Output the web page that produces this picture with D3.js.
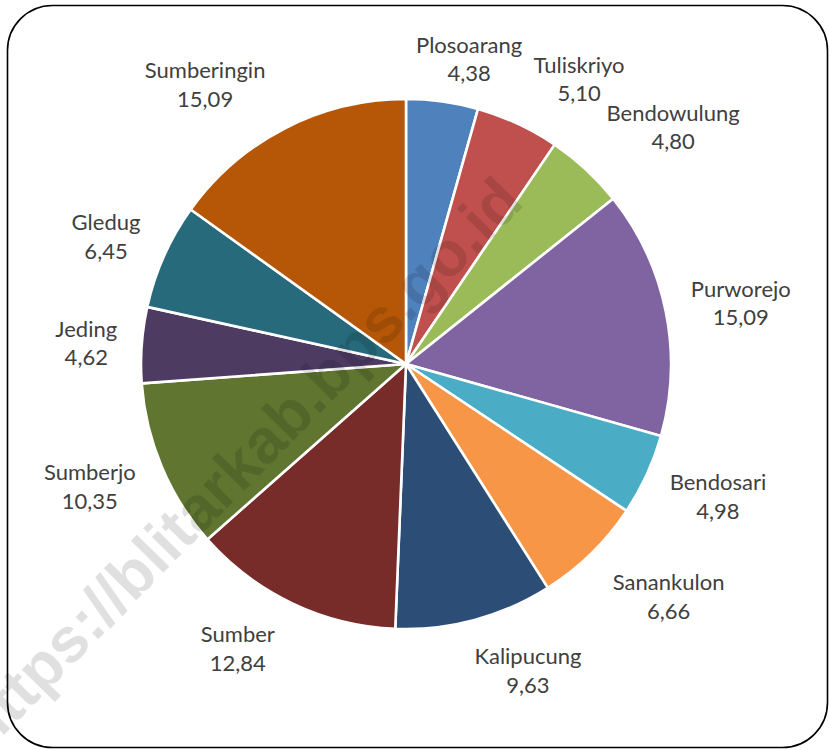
<!DOCTYPE html>
<html>
<head>
<meta charset="utf-8">
<script src="https://cdn.jsdelivr.net/npm/d3@7"></script>
<style>
  html, body { margin: 0; padding: 0; background: #fff; }
  svg { display: block; }
</style>
</head>
<body>
<svg id="chart" width="829" height="750"></svg>
<script>
// ---- data ----
const categories = ["Plosoarang", "Tuliskriyo", "Bendowulung", "Purworejo", "Bendosari", "Sanankulon",
                    "Kalipucung", "Sumber", "Sumberjo", "Jeding", "Gledug", "Sumberingin"];
const values = [4.38, 5.10, 4.80, 15.09, 4.98, 6.66, 9.63, 12.84, 10.35, 4.62, 6.45, 15.09];
const valueLabels = ["4,38", "5,10", "4,80", "15,09", "4,98", "6,66", "9,63", "12,84", "10,35", "4,62", "6,45", "15,09"];
const colors = ["#4F81BD", "#C0504D", "#9BBB59", "#8064A2", "#4BACC6", "#F79646",
                "#2C4D75", "#772C2A", "#5F7530", "#4D3B62", "#276A7C", "#B65708"];
const watermark = "https://blitarkab.bps.go.id";

// ---- layout ----
const W = 829, H = 750;
const cx = 406, cy = 364, R = 265;
// label placement (polar: angle nudge from slice middle in degrees, distance from centre)
const labelNudge = [4.1, 7, 6.6, 2.4, -0.5, -3.2, -6.2, 4.5, 0.4, -1.8, -2.3, -9.3];
const labelDist  = [304, 327, 352, 339, 342, 356, 337, 337, 342, 320, 323, 338];

const svg = d3.select("#chart");

// frame
svg.append("rect")
  .attr("x", 7.5).attr("y", 5.5)
  .attr("width", 820).attr("height", 742)
  .attr("rx", 45).attr("ry", 45)
  .attr("fill", "#fff").attr("stroke", "#000").attr("stroke-width", 1.6);

const data = categories.map((c, i) => ({ name: c, value: values[i], label: valueLabels[i], color: colors[i], i }));

const pie = d3.pie().value(d => d.value).sort(null).startAngle(0).endAngle(2 * Math.PI);
const arcs = pie(data);
const arc = d3.arc().innerRadius(0).outerRadius(R);

const g = svg.append("g").attr("transform", `translate(${cx},${cy})`);

g.selectAll("path.slice")
  .data(arcs)
  .join("path")
  .attr("class", "slice")
  .attr("d", arc)
  .attr("fill", d => d.data.color)
  .attr("stroke", "#fff")
  .attr("stroke-width", 2.6)
  .attr("stroke-linejoin", "round");

const labels = g.selectAll("g.lbl")
  .data(arcs)
  .join("g")
  .attr("class", "lbl")
  .attr("transform", d => {
    const mid = (d.startAngle + d.endAngle) / 2 + labelNudge[d.data.i] * Math.PI / 180;
    const r = labelDist[d.data.i];
    return `translate(${r * Math.sin(mid)},${-r * Math.cos(mid)})`;
  });

labels.append("text")
  .attr("text-anchor", "middle")
  .attr("y", -14)
  .attr("font-family", "Lato, 'Noto Sans', sans-serif")
  .attr("font-size", 22)
  .attr("fill", "#404040")
  .text(d => d.data.name);

labels.append("text")
  .attr("text-anchor", "middle")
  .attr("y", 14.5)
  .attr("font-family", "Lato, 'Noto Sans', sans-serif")
  .attr("font-size", 22)
  .attr("fill", "#404040")
  .text(d => d.data.label);

// watermark overlay
svg.append("text")
  .attr("transform", "translate(244,467) rotate(-45.5)")
  .attr("text-anchor", "middle")
  .attr("dominant-baseline", "middle")
  .attr("font-family", "'Liberation Sans', Arial, sans-serif")
  .attr("font-weight", "bold")
  .attr("font-size", 63)
  .attr("fill", "#000")
  .attr("fill-opacity", 0.12)
  .text(watermark);
</script>
</body>
</html>
